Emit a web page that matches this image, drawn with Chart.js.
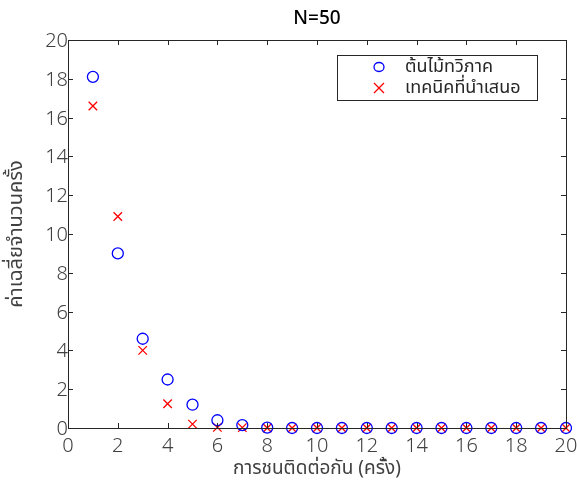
<!DOCTYPE html>
<html>
<head>
<meta charset="utf-8">
<script src="https://cdn.jsdelivr.net/npm/chart.js@4"></script>
<style>
  html, body { margin: 0; padding: 0; background: #fff; }
  #wrap { width: 577px; height: 482px; }
</style>
</head>
<body>
<div id="wrap"><canvas id="chart" width="577" height="482"></canvas></div>
<script>
// data
const collisions = [1, 2, 3, 4, 5, 6, 7, 8, 9, 10, 11, 12, 13, 14, 15, 16, 17, 18, 19, 20];
const binaryTree = [18.1, 9.0, 4.6, 2.5, 1.2, 0.4, 0.15, 0.02, 0, 0, 0, 0, 0, 0, 0, 0, 0, 0, 0, 0];
const proposed = [16.6, 10.9, 4.0, 1.25, 0.2, 0.03, 0.02, 0, 0, 0, 0, 0, 0, 0, 0, 0, 0, 0, 0, 0];
const seriesNames = ["ต้นไม้ทวิภาค", "เทคนิคที่นำเสนอ"];
const titleText = "N=50";
const xTitle = "การชนติดต่อกัน (ครั้ง)";
const yTitle = "ค่าเฉลี่ยจำนวนครั้ง";

const FONT = "Tahoma, 'Noto Sans Thai', 'Noto Sans', 'DejaVu Sans', sans-serif";

function toPoints(ys) {
  return collisions.map((x, i) => ({ x: x, y: ys[i] }));
}

// matlab style frame, inward ticks, title and legend
const framePlugin = {
  id: "frame",
  afterDraw(chart) {
    const ctx = chart.ctx;
    const a = chart.chartArea;
    const xs = chart.scales.x, ys = chart.scales.y;
    ctx.save();
    ctx.strokeStyle = "#262626";
    ctx.lineWidth = 1;
    ctx.beginPath();
    xs.ticks.forEach(t => {
      const px = Math.round(xs.getPixelForValue(t.value)) + 0.5;
      ctx.moveTo(px, a.bottom); ctx.lineTo(px, a.bottom - 5);
      ctx.moveTo(px, a.top); ctx.lineTo(px, a.top + 5);
    });
    ys.ticks.forEach(t => {
      const py = Math.round(ys.getPixelForValue(t.value)) + 0.5;
      ctx.moveTo(a.left, py); ctx.lineTo(a.left + 5, py);
      ctx.moveTo(a.right, py); ctx.lineTo(a.right - 5, py);
    });
    ctx.stroke();
    ctx.strokeRect(Math.round(a.left) + 0.5, Math.round(a.top) + 0.5,
      Math.round(a.right - a.left), Math.round(a.bottom - a.top));

    // title
    ctx.fillStyle = "#000";
    ctx.font = "500 19px " + FONT;
    ctx.textAlign = "center";
    ctx.textBaseline = "middle";
    ctx.fillText(titleText, (a.left + a.right) / 2, 20);

    // legend box
    const lx = 337, ly = 55, lw = 200, lh = 45;
    ctx.fillStyle = "#fff";
    ctx.fillRect(lx, ly, lw, lh);
    ctx.strokeStyle = "#262626";
    ctx.strokeRect(lx + 0.5, ly + 0.5, lw, lh);
    ctx.lineWidth = 1.3;
    // circle marker
    ctx.strokeStyle = "#0000ff";
    ctx.beginPath();
    ctx.ellipse(379, 67, 5, 4.5, 0, 0, Math.PI * 2);
    ctx.stroke();
    // cross marker
    ctx.strokeStyle = "#ff0000";
    ctx.beginPath();
    ctx.moveTo(374, 83); ctx.lineTo(384, 93);
    ctx.moveTo(384, 83); ctx.lineTo(374, 93);
    ctx.stroke();
    ctx.fillStyle = "#262626";
    ctx.font = "18px " + FONT;
    ctx.textAlign = "left";
    ctx.fillText(seriesNames[0], 405, 68);
    ctx.fillText(seriesNames[1], 405, 89);
    ctx.restore();
  }
};

new Chart(document.getElementById("chart"), {
  type: "scatter",
  data: {
    datasets: [
      {
        label: seriesNames[0],
        data: toPoints(binaryTree),
        pointStyle: "circle",
        radius: 5.5,
        borderColor: "#0000ff",
        backgroundColor: "rgba(0,0,0,0)",
        borderWidth: 1.3,
      },
      {
        label: seriesNames[1],
        data: toPoints(proposed),
        pointStyle: "crossRot",
        radius: 6,
        borderColor: "#ff0000",
        backgroundColor: "#ff0000",
        borderWidth: 1.3,
      },
    ],
  },
  options: {
    responsive: false,
    animation: false,
    clip: false,
    layout: { padding: { top: 40, right: 11, left: 0, bottom: 0 } },
    plugins: { legend: { display: false }, tooltip: { enabled: false } },
    scales: {
      x: {
        type: "linear",
        min: 0, max: 20,
        ticks: { stepSize: 2, color: "#404040", font: { family: FONT, size: 20, weight: 300 }, padding: 8, maxRotation: 0 },
        grid: { display: false, drawTicks: false },
        border: { display: false },
        title: { display: true, text: xTitle, color: "#404040", font: { family: FONT, size: 19 }, padding: 0 },
        afterFit(s) { s.height = 54; s.paddingLeft = 0; s.paddingRight = 0; },
      },
      y: {
        type: "linear",
        min: 0, max: 20,
        ticks: { stepSize: 2, color: "#404040", font: { family: FONT, size: 20, weight: 300 }, padding: 0, labelOffset: 3 },
        grid: { display: false, drawTicks: false },
        border: { display: false },
        title: { display: true, text: yTitle, color: "#404040", font: { family: FONT, size: 20 }, padding: { top: 6, bottom: 0 } },
        afterFit(s) { s.width = 68; },
      },
    },
  },
  plugins: [framePlugin],
});
</script>
</body>
</html>
